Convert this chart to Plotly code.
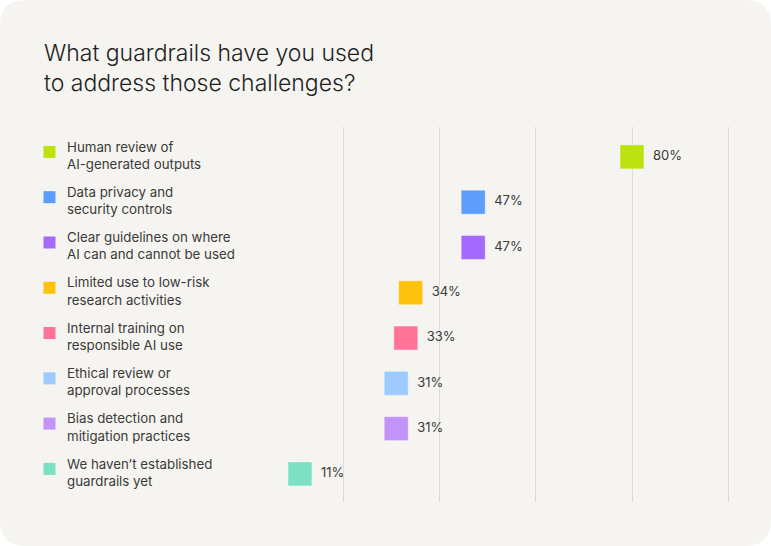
import plotly.graph_objects as go

categories = [
    "Human review of<br>AI-generated outputs",
    "Data privacy and<br>security controls",
    "Clear guidelines on where<br>AI can and cannot be used",
    "Limited use to low-risk<br>research activities",
    "Internal training on<br>responsible AI use",
    "Ethical review or<br>approval processes",
    "Bias detection and<br>mitigation practices",
    "We haven’t established<br>guardrails yet",
]
values = [80, 47, 47, 34, 33, 31, 31, 11]
colors = ["#bde30f", "#5d9dfd", "#a46afc", "#ffc20a", "#ff7399", "#9dcbff", "#c394f8", "#7de0c3"]
grid_ticks = [20, 40, 60, 80, 100]
title = "What guardrails have you used<br>to address those challenges?"

W, H = 771, 546
rows = list(range(len(categories)))
FONT = "Inter"

fig = go.Figure()

# legend-like labels (text) on left axis
fig.add_trace(go.Scatter(
    x=[67] * len(categories), y=rows, xaxis="x2", yaxis="y",
    mode="text", text=categories, textposition="middle right",
    textfont=dict(family=FONT, size=13.3, color="#3b3a38"),
    hoverinfo="skip", showlegend=False,
))
# legend squares (shifted up to line up with first text line)
fig.add_trace(go.Scatter(
    x=[49.5] * len(categories), y=rows, xaxis="x2", yaxis="y2",
    mode="markers",
    marker=dict(symbol="square", size=12, color=colors, line=dict(width=0)),
    hoverinfo="skip", showlegend=False,
))
# main value markers
fig.add_trace(go.Scatter(
    x=values, y=rows, xaxis="x", yaxis="y",
    mode="markers",
    marker=dict(symbol="square", size=24, color=colors,
                line=dict(width=0.8, color="rgba(255,255,255,0.5)")),
    cliponaxis=False,
    hovertemplate="%{x}%<extra></extra>",
    showlegend=False,
))
# value labels (invisible larger marker sets the gap)
fig.add_trace(go.Scatter(
    x=values, y=rows, xaxis="x", yaxis="y",
    mode="markers+text",
    marker=dict(symbol="square", size=32, color="rgba(0,0,0,0)"),
    text=[f"{v}%" for v in values], textposition="middle right",
    textfont=dict(family=FONT, size=13, color="#3b3a38"),
    cliponaxis=False, hoverinfo="skip", showlegend=False,
))

y_top, y_bot = 127, 502
ydom = [(H - y_bot) / H, (H - y_top) / H]
shift = 5 / H
yrange = [7.62, -0.66]
px_per_pct = (632 - 247) / 80
x_max = 101

fig.update_layout(
    width=W, height=H,
    margin=dict(l=0, r=0, t=0, b=0),
    paper_bgcolor="#ffffff",
    plot_bgcolor="rgba(0,0,0,0)",
    xaxis=dict(domain=[247 / W, (247 + x_max * px_per_pct) / W], range=[0, x_max], tickvals=grid_ticks,
               showticklabels=False, showgrid=True, gridcolor="#dddbd7", gridwidth=1.2,
               zeroline=False, showline=False, fixedrange=True),
    yaxis=dict(domain=ydom, range=yrange, visible=False, fixedrange=True),
    xaxis2=dict(domain=[0, 240 / W], range=[0, 240], visible=False, anchor="y2", fixedrange=True),
    yaxis2=dict(domain=[ydom[0] + shift, ydom[1] + shift], range=yrange, visible=False,
                anchor="x2", fixedrange=True),
    shapes=[dict(
        type="path", xref="paper", yref="paper", layer="below",
        path=(f"M 0,{1 - 26 / H} Q 0,1 {26 / W},1 L {1 - 26 / W},1 Q 1,1 1,{1 - 26 / H} "
              f"L 1,{26 / H} Q 1,0 {1 - 26 / W},0 L {26 / W},0 Q 0,0 0,{26 / H} Z"),
        fillcolor="#f5f4f1", line=dict(width=0),
    )],
    annotations=[dict(
        text=title, xref="paper", yref="paper", x=42 / W, y=1 - 37 / H,
        xanchor="left", yanchor="top", align="left", showarrow=False,
        font=dict(family=FONT, size=23, color="#1f1f1e", weight=300),
    )],
)

fig.write_html("out.html", config={"displayModeBar": False},
               post_script="document.body.style.margin='0';")
